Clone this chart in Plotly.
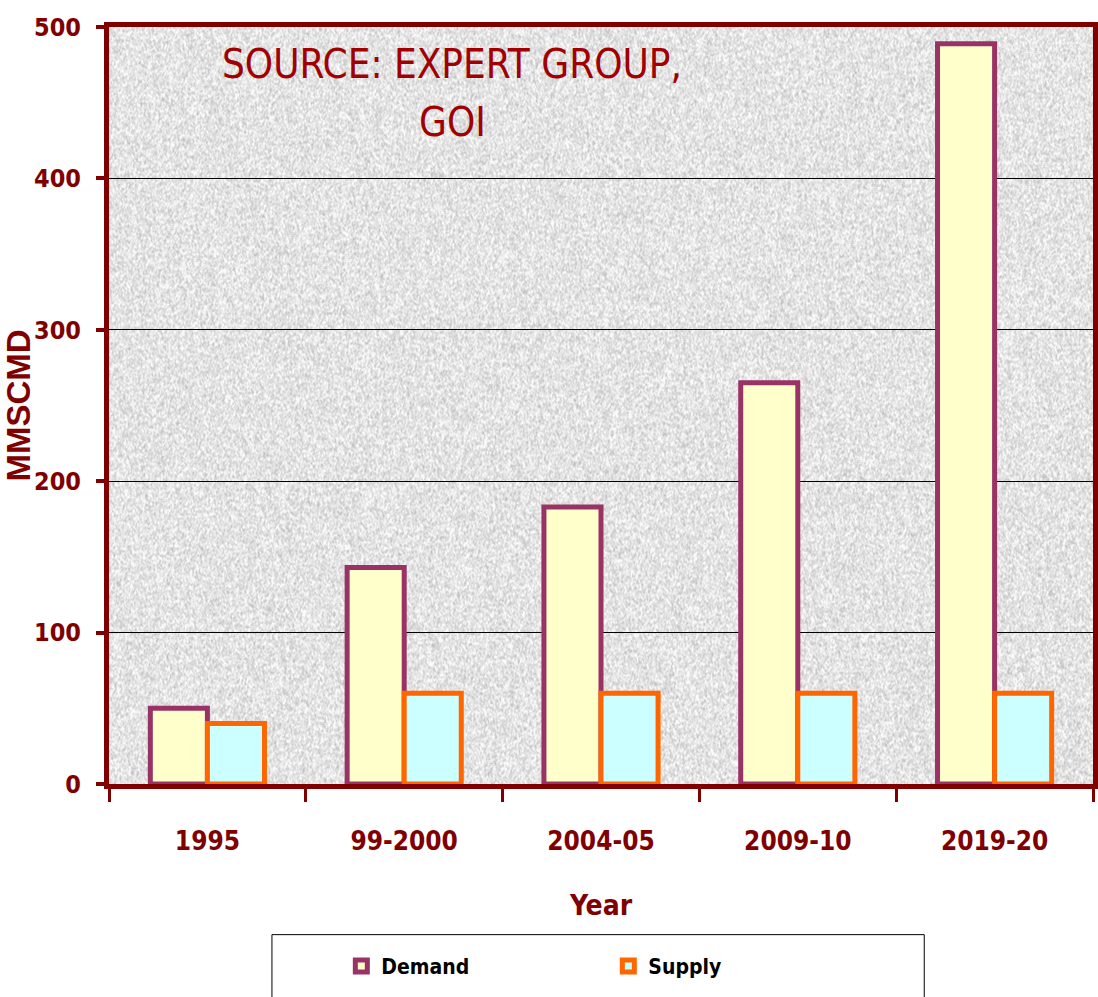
import base64
import struct
import zlib

import numpy as np
import plotly.graph_objects as go

# ---- data -------------------------------------------------------------
years = ["1995", "99-2000", "2004-05", "2009-10", "2019-20"]
demand = [50, 143, 183, 265, 489]
supply = [40, 60, 60, 60, 60]
y_ticks = [0, 100, 200, 300, 400, 500]

DARK_RED = "#800000"
NARROW = "DejaVu Sans Condensed, DejaVu Sans, sans-serif"


# ---- granite-like plot background (decorative texture) ----------------
def granite_texture(w, h):
    yy, xx = np.mgrid[0:h, 0:w].astype(float)
    # deterministic hash noise
    v = np.sin(xx * 12.9898 + yy * 78.233) * 43758.5453
    v = v - np.floor(v)
    # soften with a small box filter, slightly elongated vertically
    acc = np.zeros_like(v)
    cnt = 0
    for dy in (-1, 0, 1):
        for dx in (0, 1):
            acc += np.roll(np.roll(v, dy, 0), dx, 1)
            cnt += 1
    s = acc / cnt
    s = (s - s.mean()) / s.std()
    fine = (v - 0.5) * 2
    g = 228 + 10 * s + 5 * fine
    return np.clip(g, 185, 250).astype(np.uint8)


def png_data_uri(gray):
    h, w = gray.shape
    raw = b"".join(b"\x00" + gray[i].tobytes() for i in range(h))

    def chunk(tag, data):
        body = tag + data
        return struct.pack(">I", len(data)) + body + struct.pack(">I", zlib.crc32(body) & 0xFFFFFFFF)

    png = (b"\x89PNG\r\n\x1a\n"
           + chunk(b"IHDR", struct.pack(">IIBBBBB", w, h, 8, 0, 0, 0, 0))
           + chunk(b"IDAT", zlib.compress(raw, 9))
           + chunk(b"IEND", b""))
    return "data:image/png;base64," + base64.b64encode(png).decode()


bg_uri = png_data_uri(granite_texture(984, 757))

# ---- figure -----------------------------------------------------------
fig = go.Figure()
fig.add_trace(go.Bar(
    name="Demand", x=years, y=demand,
    marker=dict(color="#FFFFCC", line=dict(color="#993366", width=5)),
))
fig.add_trace(go.Bar(
    name="Supply", x=years, y=supply,
    marker=dict(color="#CCFFFF", line=dict(color="#FF6600", width=5)),
))

title_font = dict(family=NARROW, size=40, color="#A00000")

fig.update_layout(
    width=1098, height=997,
    margin=dict(l=109, r=5, t=27, b=213),
    paper_bgcolor="white",
    plot_bgcolor="rgba(0,0,0,0)",
    barmode="group",
    bargap=0.42,
    bargroupgap=0,
    showlegend=True,
    legend=dict(
        orientation="h",
        x=0.2361, xanchor="left",
        y=-0.241, yanchor="middle",
        font=dict(family=NARROW, size=21, color="black", weight="bold"),
        entrywidth=222, entrywidthmode="pixels",
        bgcolor="rgba(0,0,0,0)", borderwidth=0,
    ),
    images=[dict(
        source=bg_uri, xref="paper", yref="paper",
        x=0, y=1, sizex=1, sizey=1, xanchor="left", yanchor="top",
        sizing="stretch", layer="below",
    )],
    shapes=[dict(
        type="rect", xref="paper", yref="paper",
        x0=0.1656, x1=0.8285, y0=-0.32, y1=-0.199,
        line=dict(color="black", width=1), fillcolor="rgba(0,0,0,0)",
    )],
    annotations=[
        dict(text="SOURCE: EXPERT GROUP,", xref="paper", yref="paper",
             x=0.3486, y=0.9506, xanchor="center", yanchor="middle",
             showarrow=False, font=title_font),
        dict(text="GOI", xref="paper", yref="paper",
             x=0.3486, y=0.8741, xanchor="center", yanchor="middle",
             showarrow=False, font=title_font),
    ],
)

fig.update_xaxes(
    type="category", automargin=False,
    showline=True, linecolor=DARK_RED, linewidth=5, mirror=True,
    ticks="outside", tickson="boundaries", ticklen=13, tickwidth=3, tickcolor=DARK_RED,
    tickfont=dict(family=NARROW, size=26, color=DARK_RED, weight="bold"),
    ticklabelstandoff=30,
    showgrid=False,
    title=dict(text="Year", font=dict(family=NARROW, size=28, color=DARK_RED, weight="bold"),
               standoff=42),
)
fig.update_yaxes(
    range=[0, 500], tickvals=y_ticks, automargin=False,
    showline=True, linecolor=DARK_RED, linewidth=5, mirror=True,
    ticks="outside", ticklen=8, tickwidth=4, tickcolor=DARK_RED,
    tickfont=dict(family=NARROW, size=25, color=DARK_RED, weight="bold"),
    ticklabelstandoff=10,
    showgrid=True, gridcolor="black", gridwidth=1,
    zeroline=False,
    title=dict(text="MMSCMD", font=dict(family="Liberation Sans, Arial, sans-serif", size=33,
                                         color=DARK_RED, weight="bold"),
               standoff=12),
)

fig.write_html("out.html")
